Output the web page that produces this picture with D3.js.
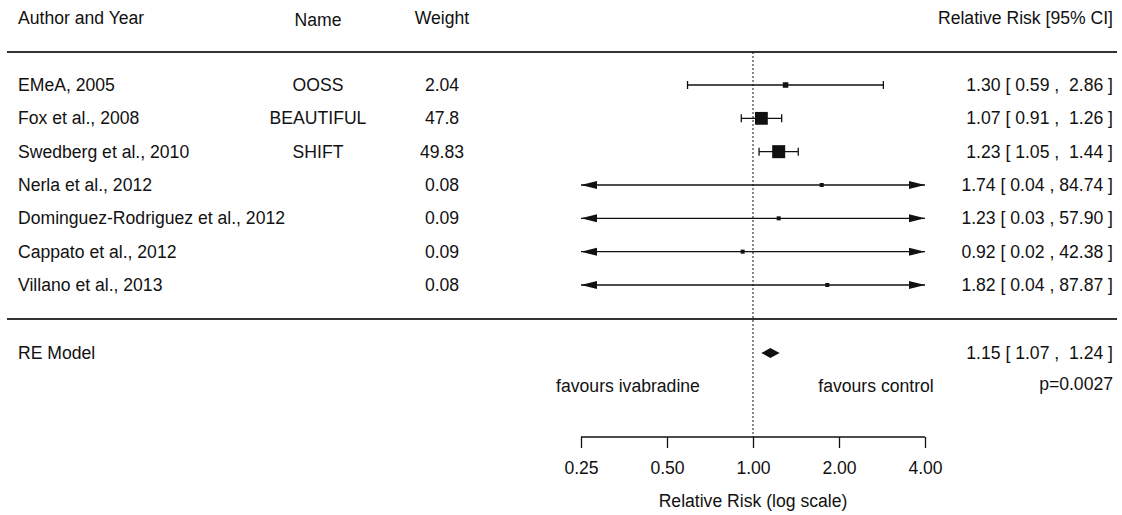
<!DOCTYPE html>
<html><head><meta charset="utf-8">
<script src="https://cdn.jsdelivr.net/npm/d3@7"></script>
<style>body{margin:0;background:#fff}svg{display:block}text{font-family:"Liberation Sans",Arial,sans-serif;fill:#111;white-space:pre}</style>
</head><body><svg id="c" width="1122" height="515"></svg>
<script>
const authors = ["EMeA, 2005","Fox et al., 2008","Swedberg et al., 2010","Nerla et al., 2012","Dominguez-Rodriguez et al., 2012","Cappato et al., 2012","Villano et al., 2013"];
const trialNames = ["OOSS","BEAUTIFUL","SHIFT","","","",""];
const weights = [2.04,47.8,49.83,0.08,0.09,0.09,0.08];
const rr = [1.30,1.07,1.23,1.74,1.23,0.92,1.82];
const lower = [0.59,0.91,1.05,0.04,0.03,0.02,0.04];
const upper = [2.86,1.26,1.44,84.74,57.90,42.38,87.87];
const pooled = {label:"RE Model", est:1.15, lo:1.07, hi:1.24, p:"p=0.0027"};
const ticks = [0.25,0.5,1,2,4];
const headers = ["Author and Year","Name","Weight","Relative Risk [95% CI]"];

const svg = d3.select("#c");
const x = d3.scaleLog().base(2).domain([0.25,4]).range([581,925]);
const y = d3.scalePoint().domain(d3.range(authors.length)).range([85,285]);
const sw = weights.map(Math.sqrt);
const size = d3.scaleLinear().domain(d3.extent(sw)).range([4,13]);
const fs = 17.6;
const ink = "#111";
const nameX = 318, wX = 442, rX = 1113;

// header
const hy = 24;
svg.append("text").attr("x",18).attr("y",hy).attr("font-size",fs).text(headers[0]);
svg.append("text").attr("x",nameX).attr("y",hy+2).attr("font-size",fs).attr("text-anchor","middle").text(headers[1]);
svg.append("text").attr("x",wX).attr("y",hy).attr("font-size",fs).attr("text-anchor","middle").text(headers[2]);
svg.append("text").attr("x",rX).attr("y",hy).attr("font-size",fs).attr("text-anchor","end").text(headers[3]);

// separators
[52,319].forEach(v=>svg.append("line").attr("x1",7).attr("x2",1117).attr("y1",v).attr("y2",v).attr("stroke","#333").attr("stroke-width",2));

// reference line
svg.append("line").attr("x1",x(1)).attr("x2",x(1)).attr("y1",52).attr("y2",437).attr("stroke",ink).attr("stroke-width",1).attr("stroke-dasharray","2,2");

const f2 = d3.format(".2f");
function ciText(e,l,h){const hs=f2(h);return `${f2(e)} [ ${f2(l)} , ${hs.length<5?" ":""}${hs} ]`;}

const [xmin,xmax] = x.range();
authors.forEach((a,i)=>{
  const yy = y(i);
  svg.append("text").attr("x",18).attr("y",yy+6).attr("font-size",fs).text(a);
  if(trialNames[i]) svg.append("text").attr("x",nameX).attr("y",yy+6).attr("font-size",fs).attr("text-anchor","middle").text(trialNames[i]);
  svg.append("text").attr("x",wX).attr("y",yy+6).attr("font-size",fs).attr("text-anchor","middle").text(weights[i]);
  svg.append("text").attr("x",rX).attr("y",yy+6).attr("font-size",fs).attr("text-anchor","end").text(ciText(rr[i],lower[i],upper[i]));
  const lx = Math.max(x(lower[i]),xmin), hx = Math.min(x(upper[i]),xmax);
  svg.append("line").attr("x1",lx).attr("x2",hx).attr("y1",yy).attr("y2",yy).attr("stroke",ink).attr("stroke-width",1.3);
  if(x(lower[i])<xmin){
    svg.append("path").attr("d",`M${xmin},${yy}L${xmin+16},${yy-4}L${xmin+16},${yy+4}Z`).attr("fill",ink);
  } else {
    svg.append("line").attr("x1",lx).attr("x2",lx).attr("y1",yy-4).attr("y2",yy+4).attr("stroke",ink).attr("stroke-width",1.3);
  }
  if(x(upper[i])>xmax){
    svg.append("path").attr("d",`M${xmax},${yy}L${xmax-16},${yy-4}L${xmax-16},${yy+4}Z`).attr("fill",ink);
  } else {
    svg.append("line").attr("x1",hx).attr("x2",hx).attr("y1",yy-4).attr("y2",yy+4).attr("stroke",ink).attr("stroke-width",1.3);
  }
  const s = size(sw[i]);
  svg.append("rect").attr("x",x(rr[i])-s/2).attr("y",yy-s/2).attr("width",s).attr("height",s).attr("fill",ink);
});

// pooled
const py = 353;
svg.append("text").attr("x",18).attr("y",py+6).attr("font-size",fs).text(pooled.label);
svg.append("path").attr("d",`M${x(pooled.lo)},${py}L${x(pooled.est)},${py-5}L${x(pooled.hi)},${py}L${x(pooled.est)},${py+5}Z`).attr("fill",ink);
svg.append("text").attr("x",rX).attr("y",py+6).attr("font-size",fs).attr("text-anchor","end").text(ciText(pooled.est,pooled.lo,pooled.hi));
svg.append("text").attr("x",rX).attr("y",390).attr("font-size",fs).attr("text-anchor","end").text(pooled.p);
svg.append("text").attr("x",628).attr("y",392).attr("font-size",fs).attr("text-anchor","middle").text("favours ivabradine");
svg.append("text").attr("x",876).attr("y",392).attr("font-size",fs).attr("text-anchor","middle").text("favours control");

// axis
const ax = svg.append("g").attr("transform","translate(0,437)")
  .call(d3.axisBottom(x).tickValues(ticks).tickFormat(f2).tickSize(11).tickPadding(14));
ax.select(".domain").attr("stroke",ink).attr("stroke-width",1.3).attr("d",`M${xmin},0H${xmax}`);
ax.selectAll(".tick line").attr("stroke",ink).attr("stroke-width",1.3);
ax.selectAll(".tick text").attr("font-size",fs).attr("fill",ink).attr("font-family","Liberation Sans, Arial, sans-serif");
svg.append("text").attr("x",x(1)).attr("y",507).attr("font-size",fs).attr("text-anchor","middle").text("Relative Risk (log scale)");
</script></body></html>
